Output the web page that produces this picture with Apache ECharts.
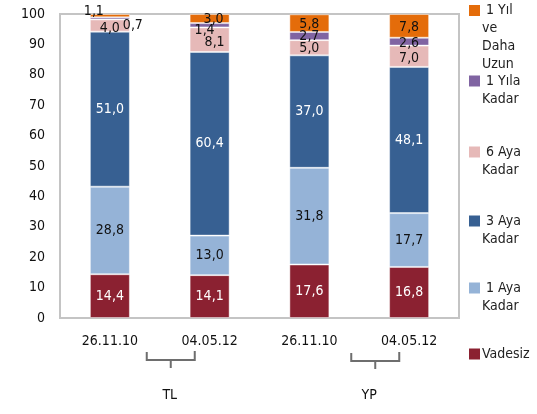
<!DOCTYPE html>
<html>
<head>
<meta charset="utf-8">
<script src="https://cdn.jsdelivr.net/npm/echarts@6/dist/echarts.min.js"></script>
<style>
  html, body { margin: 0; padding: 0; background: #ffffff; }
  #chart { width: 537px; height: 414px; }
</style>
</head>
<body>
<div id="chart"></div>
<script>
// Maturity structure of deposits (%), TL and YP, two dates each
const categories = ['26.11.10', '04.05.12', '26.11.10', '04.05.12'];
const groups = ['TL', 'YP'];

const vadesiz   = [14.4, 14.1, 17.6, 16.8];
const aya1      = [28.8, 13.0, 31.8, 17.7];
const aya3      = [51.0, 60.4, 37.0, 48.1];
const aya6      = [4.0, 8.1, 5.0, 7.0];
const yila1     = [0.7, 1.4, 2.7, 2.6];
const yil1Uzun  = [1.1, 3.0, 5.8, 7.8];

const yMin = 0, yMax = 100, yStep = 10;

const FONT = "'DejaVu Sans Condensed', 'DejaVu Sans', sans-serif";

// series, bottom to top
const seriesDefs = [
  { name: 'Vadesiz',            values: vadesiz,  color: '#8B2131', labelColor: '#ffffff', legendLines: ['Vadesiz'] },
  { name: '1 Aya Kadar',        values: aya1,     color: '#95B3D7', labelColor: '#111111', legendLines: ['1 Aya', 'Kadar'] },
  { name: '3 Aya Kadar',        values: aya3,     color: '#376092', labelColor: '#ffffff', legendLines: ['3 Aya', 'Kadar'] },
  { name: '6 Aya Kadar',        values: aya6,     color: '#E6B9B8', labelColor: '#111111', legendLines: ['6 Aya', 'Kadar'] },
  { name: '1 Yıla Kadar',       values: yila1,    color: '#8064A2', labelColor: '#111111', legendLines: ['1 Yıla', 'Kadar'] },
  { name: '1 Yıl ve Daha Uzun', values: yil1Uzun, color: '#E46C0A', labelColor: '#111111', legendLines: ['1 Yıl', 've', 'Daha', 'Uzun'] }
];

// label nudges for the thin segments (series index -> bar index -> [dx, dy])
const labelNudge = {
  3: { 0: [0, 3], 1: [5, 3], 2: [0, 1], 3: [0, 2] },
  4: { 0: [23, 7], 1: [-5, 5], 3: [0, 2] },
  5: { 0: [-16, -4], 1: [4, 1], 2: [0, 1], 3: [0, 2] }
};

// legend placement: vertical centre of the first text line of each entry
const legendFirstLineY = [356, 290, 223, 154, 83, 12.5];
const LINE_H = 18;

const fmt = v => v.toFixed(1).replace('.', ',');

const series = seriesDefs.map((d, si) => ({
  name: d.name,
  type: 'bar',
  stack: 'total',
  barWidth: 40,
  itemStyle: { color: d.color, borderColor: 'rgba(255,255,255,0.45)', borderWidth: 1 },
  label: {
    show: true,
    position: 'inside',
    color: d.labelColor,
    fontFamily: FONT,
    fontSize: 14,
    formatter: p => fmt(p.value)
  },
  data: d.values.map((v, i) => {
    const n = labelNudge[si] && labelNudge[si][i];
    return n ? { value: v, label: { offset: n } } : v;
  })
}));

const legends = seriesDefs.map((d, si) => {
  const first = si === 0 ? '{sq|}{g2|}{t|' + d.legendLines[0] + '}'
                         : '{sq|}{g|}{t|' + d.legendLines[0] + '}';
  const rest = d.legendLines.slice(1).map(s => '{ind|}{t|' + s + '}');
  const text = [first].concat(rest).join('\n');
  return {
    show: true,
    orient: 'vertical',
    left: 464,
    top: legendFirstLineY[si] - LINE_H / 2,
    padding: 0,
    itemGap: 0,
    itemWidth: 0,
    itemHeight: 0,
    icon: 'none',
    data: [d.name],
    formatter: () => text,
    textStyle: {
      fontFamily: FONT,
      fontSize: 14,
      color: '#222222',
      rich: {
        sq: { width: 11, height: 11, backgroundColor: d.color, lineHeight: LINE_H },
        g: { width: 6, lineHeight: LINE_H },
        g2: { width: 2, lineHeight: LINE_H },
        ind: { width: 13, lineHeight: LINE_H },
        t: { fontFamily: FONT, fontSize: 14, color: '#222222', lineHeight: LINE_H }
      }
    }
  };
});

const chart = echarts.init(document.getElementById('chart'), null, { renderer: 'canvas' });

chart.setOption({
  animation: false,
  backgroundColor: '#ffffff',
  grid: {
    left: 60, right: 78, top: 14, bottom: 96,
    show: true,
    borderColor: '#c4c4c4',
    borderWidth: 2,
    backgroundColor: 'transparent'
  },
  legend: legends,
  xAxis: [
    {
      type: 'category',
      data: categories,
      axisLine: { show: false },
      axisTick: { show: false },
      axisLabel: { margin: 16, fontFamily: FONT, fontSize: 14, color: '#111111' }
    },
    {
      type: 'category',
      data: groups,
      position: 'bottom',
      axisLine: { show: false },
      axisTick: { show: false },
      splitLine: { show: false },
      axisLabel: { margin: 70, padding: [0, 0, 0, 20], fontFamily: FONT, fontSize: 14, color: '#111111' }
    }
  ],
  yAxis: {
    type: 'value',
    min: yMin,
    max: yMax,
    interval: yStep,
    axisLine: { show: false },
    axisTick: { show: false },
    splitLine: { show: false },
    axisLabel: { margin: 15, fontFamily: FONT, fontSize: 14, color: '#111111' }
  },
  series: series
});

// grouping brackets under the date labels
const braceSpans = [
  { left: -13, right: 35, mid: 11, top: 34, bar: 42, tip: 50 },
  { left: -8,  right: 40, mid: 16, top: 35, bar: 43, tip: 51 }
];
const baseY = chart.convertToPixel({ yAxisIndex: 0 }, yMin);
const braceGraphics = [];
groups.forEach((g, gi) => {
  const cx = chart.convertToPixel({ xAxisIndex: 1 }, g);
  const b = braceSpans[gi];
  const style = { stroke: '#6e6e6e', lineWidth: 2, fill: null };
  braceGraphics.push({
    type: 'polyline',
    shape: { points: [[cx + b.left, baseY + b.top], [cx + b.left, baseY + b.bar],
                      [cx + b.right, baseY + b.bar], [cx + b.right, baseY + b.top - 1]] },
    style: style
  });
  braceGraphics.push({
    type: 'line',
    shape: { x1: cx + b.mid, y1: baseY + b.bar, x2: cx + b.mid, y2: baseY + b.tip },
    style: style
  });
});
chart.setOption({ graphic: braceGraphics });
</script>
</body>
</html>
